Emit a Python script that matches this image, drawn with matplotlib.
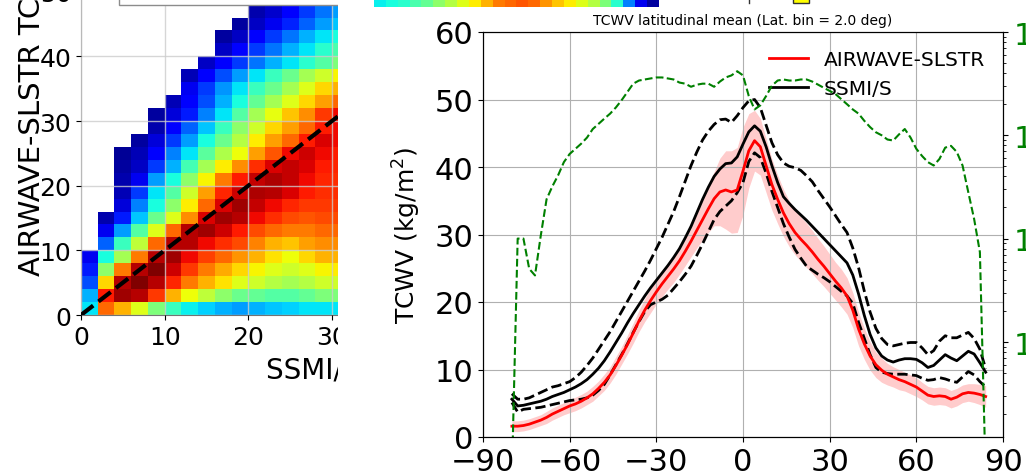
import numpy as np
import matplotlib.pyplot as plt
from matplotlib.patches import Rectangle
from matplotlib.lines import Line2D

nan = np.nan

# ---------------- latitudinal means (right panel) ----------------
lat = [-80, -78, -76, -74, -72, -70, -68, -66, -64, -62,
       -60, -58, -56, -54, -52, -50, -48, -46, -44, -42,
       -40, -38, -36, -34, -32, -30, -28, -26, -24, -22,
       -20, -18, -16, -14, -12, -10, -8, -6, -4, -2,
       0, 2, 4, 6, 8, 10, 12, 14, 16, 18,
       20, 22, 24, 26, 28, 30, 32, 34, 36, 38,
       40, 42, 44, 46, 48, 50, 52, 54, 56, 58,
       60, 62, 64, 66, 68, 70, 72, 74, 76, 78,
       80, 82, 84]

airwave_mean = [1.6, 1.6, 1.7, 1.9, 2.2, 2.5, 2.9, 3.4, 3.8, 4.2,
                4.6, 4.9, 5.3, 5.8, 6.4, 7.2, 8.1, 9.2, 10.6, 12.1,
                13.7, 15.4, 17.2, 18.8, 20.2, 21.5, 22.7, 23.8, 24.9, 26.1,
                27.5, 29.0, 30.6, 32.2, 33.8, 35.3, 36.3, 36.6, 36.3, 36.6,
                39.4, 42.4, 43.9, 43.0, 40.2, 37.4, 35.2, 33.2, 31.6, 30.3,
                29.3, 28.4, 27.4, 26.3, 25.3, 24.2, 23.1, 22.1, 20.9, 18.8,
                16.0, 13.8, 12.0, 10.7, 9.9, 9.3, 8.9, 8.5, 8.2, 7.8,
                7.4, 6.8, 6.2, 6.0, 6.1, 6.0, 5.6, 5.9, 6.4, 6.6,
                6.5, 6.3, 6.0]

airwave_std = [0.8, 0.8, 0.8, 0.8, 0.8, 0.8, 0.9, 0.9, 0.9, 0.9,
               1.0, 1.0, 1.0, 1.0, 1.1, 1.1, 1.2, 1.2, 1.3, 1.3,
               1.4, 1.5, 1.6, 1.7, 1.8, 1.8, 1.9, 1.9, 2.0, 2.0,
               2.1, 2.3, 2.6, 3.0, 3.5, 4.0, 5.0, 5.8, 6.1, 6.3,
               6.5, 5.5, 4.5, 4.2, 4.0, 3.8, 3.6, 3.5, 3.4, 3.3,
               3.3, 3.3, 3.2, 3.1, 3.0, 2.9, 2.8, 2.8, 2.7, 2.6,
               2.5, 2.3, 2.1, 1.9, 1.8, 1.6, 1.5, 1.5, 1.4, 1.4,
               1.4, 1.3, 1.3, 1.3, 1.3, 1.3, 1.3, 1.3, 1.3, 1.3,
               1.4, 1.5, 1.6]

ssmis_mean = [5.6, 4.6, 4.7, 4.9, 5.1, 5.3, 5.6, 6.0, 6.3, 6.6,
              7.0, 7.4, 7.9, 8.5, 9.3, 10.2, 11.3, 12.6, 14.0, 15.4,
              16.9, 18.3, 19.6, 20.9, 22.1, 23.2, 24.3, 25.4, 26.6, 27.9,
              29.5, 31.2, 33.2, 35.2, 37.0, 38.6, 39.7, 40.5, 40.6, 41.5,
              43.4, 45.2, 46.1, 45.3, 43.0, 40.2, 37.7, 35.6, 34.6, 33.7,
              32.9, 32.1, 31.2, 30.3, 29.4, 28.5, 27.6, 26.7, 25.8, 24.0,
              21.2, 18.0, 15.2, 13.2, 12.0, 11.4, 11.1, 11.4, 11.6, 11.6,
              11.5, 11.0, 10.3, 10.6, 11.4, 12.2, 11.7, 11.3, 12.0, 12.7,
              12.3, 11.0, 9.6]

ssmis_upper = [6.4, 5.6, 5.6, 5.8, 6.2, 6.6, 7.0, 7.4, 7.6, 7.9,
               8.2, 8.8, 9.6, 10.6, 11.7, 13.0, 14.3, 15.6, 17.1, 18.6,
               20.1, 21.6, 23.1, 24.6, 26.2, 27.9, 29.6, 31.5, 33.4, 35.6,
               37.9, 40.2, 42.2, 44.0, 45.3, 46.3, 47.0, 47.1, 46.6, 47.6,
               48.8, 49.8, 50.0, 48.8, 46.2, 43.6, 41.8, 40.6, 40.1, 39.9,
               39.5, 38.7, 37.8, 36.5, 35.3, 34.1, 32.8, 31.5, 30.3, 28.0,
               25.1, 21.6, 18.5, 16.1, 14.6, 13.7, 13.5, 13.7, 13.9, 14.0,
               14.0, 13.2, 12.2, 12.8, 14.2, 15.0, 14.7, 14.7, 15.1, 15.5,
               14.6, 13.0, 10.1]

ssmis_lower = [5.1, 3.7, 4.1, 4.2, 4.3, 4.4, 4.6, 4.8, 5.0, 5.2,
               5.4, 5.5, 5.6, 5.8, 6.2, 6.9, 7.8, 9.2, 10.7, 12.2,
               13.8, 15.5, 17.1, 18.6, 19.6, 20.0, 20.4, 21.0, 22.0, 23.0,
               24.1, 25.3, 26.9, 28.6, 30.4, 32.2, 33.4, 34.2, 35.0, 36.2,
               37.7, 40.8, 42.1, 41.4, 39.1, 36.4, 34.0, 31.6, 29.6, 27.8,
               26.5, 25.3, 24.7, 24.1, 23.6, 23.0, 22.3, 21.6, 20.9, 19.8,
               17.0, 14.6, 12.2, 10.3, 9.6, 9.4, 9.3, 9.3, 9.3, 9.2,
               9.1, 8.7, 8.4, 8.5, 8.8, 8.6, 8.3, 8.1, 8.9, 9.7,
               9.2, 8.2, 7.4]

# number of matchups per latitude bin (right log axis)
n_obs = [5e1, 1.0e4, 1.0e4, 5.1e3, 4.4e3, 1.07e4, 2.4e4, 3.2e4, 4.1e4, 5.5e4,
         6.6e4, 7.4e4, 8.3e4, 9.5e4, 1.15e5, 1.29e5, 1.45e5, 1.62e5, 1.86e5, 2.19e5,
         2.63e5, 3.16e5, 3.39e5, 3.47e5, 3.55e5, 3.63e5, 3.63e5, 3.55e5, 3.47e5, 3.24e5,
         3.16e5, 2.95e5, 3.09e5, 3.16e5, 3.16e5, 2.95e5, 3.31e5, 3.63e5, 3.80e5, 4.17e5,
         3.80e5, 2.40e5, 1.78e5, 1.95e5, 2.40e5, 3.02e5, 3.39e5, 3.47e5, 3.39e5, 3.39e5,
         3.47e5, 3.47e5, 3.31e5, 3.09e5, 2.88e5, 2.69e5, 2.51e5, 2.24e5, 2.00e5, 1.78e5,
         1.62e5, 1.38e5, 1.20e5, 1.07e5, 1.00e5, 9.1e4, 8.9e4, 1.02e5, 1.15e5, 9.5e4,
         7.4e4, 6.3e4, 5.5e4, 5.1e4, 5.9e4, 7.6e4, 7.9e4, 6.9e4, 5.1e4, 2.8e4,
         1.55e4, 7.4e3, 5e1]

# ---------------- 2D histogram (left panel), colour level 0-1 ----------------
hist_x_edges = [0, 2, 4, 6, 8, 10, 12, 14, 16, 18, 20, 22, 24, 26, 28, 30, 32]
hist_y_edges = [0, 2, 4, 6, 8, 10, 12, 14, 16, 18, 20, 22, 24, 26,
                28, 30, 32, 34, 36, 38, 40, 42, 44, 46, 48, 50, 52]

# rows listed from top (y 50-52) to bottom (y 0-2)
hist_level_top_down = [
    [nan, nan, nan, nan, nan, nan, nan, nan, nan, nan, nan, 0.04, 0.08, 0.12, 0.17, 0.22],
    [nan, nan, nan, nan, nan, nan, nan, nan, nan, nan, 0.03, 0.05, 0.10, 0.15, 0.20, 0.25],
    [nan, nan, nan, nan, nan, nan, nan, nan, nan, nan, 0.04, 0.07, 0.12, 0.18, 0.24, 0.28],
    [nan, nan, nan, nan, nan, nan, nan, nan, nan, 0.03, 0.06, 0.10, 0.16, 0.22, 0.28, 0.32],
    [nan, nan, nan, nan, nan, nan, nan, nan, 0.03, 0.06, 0.12, 0.18, 0.24, 0.30, 0.35, 0.38],
    [nan, nan, nan, nan, nan, nan, nan, nan, 0.06, 0.12, 0.18, 0.24, 0.30, 0.35, 0.40, 0.44],
    [nan, nan, nan, nan, nan, nan, nan, 0.06, 0.12, 0.18, 0.24, 0.30, 0.35, 0.40, 0.45, 0.50],
    [nan, nan, nan, nan, nan, nan, 0.05, 0.12, 0.20, 0.28, 0.35, 0.42, 0.48, 0.55, 0.60, 0.65],
    [nan, nan, nan, nan, nan, nan, 0.10, 0.18, 0.27, 0.35, 0.42, 0.48, 0.55, 0.62, 0.68, 0.72],
    [nan, nan, nan, nan, nan, 0.05, 0.12, 0.20, 0.30, 0.38, 0.47, 0.55, 0.62, 0.68, 0.74, 0.80],
    [nan, nan, nan, nan, 0.03, 0.08, 0.15, 0.25, 0.35, 0.45, 0.55, 0.63, 0.70, 0.76, 0.85, 0.90],
    [nan, nan, nan, nan, 0.04, 0.12, 0.22, 0.32, 0.42, 0.52, 0.60, 0.68, 0.74, 0.80, 0.88, 0.90],
    [nan, nan, nan, 0.03, 0.08, 0.18, 0.28, 0.38, 0.48, 0.57, 0.66, 0.74, 0.80, 0.88, 0.92, 0.90],
    [nan, nan, 0.02, 0.05, 0.12, 0.25, 0.35, 0.46, 0.56, 0.64, 0.74, 0.82, 0.90, 0.93, 0.90, 0.88],
    [nan, nan, 0.03, 0.06, 0.18, 0.30, 0.43, 0.55, 0.66, 0.76, 0.86, 0.92, 0.94, 0.92, 0.88, 0.87],
    [nan, nan, 0.04, 0.10, 0.28, 0.38, 0.52, 0.65, 0.78, 0.88, 0.94, 0.96, 0.94, 0.90, 0.87, 0.86],
    [nan, nan, 0.05, 0.18, 0.35, 0.45, 0.60, 0.74, 0.87, 0.93, 0.96, 0.95, 0.92, 0.88, 0.86, 0.86],
    [nan, nan, 0.08, 0.25, 0.38, 0.52, 0.66, 0.80, 0.92, 0.97, 0.94, 0.90, 0.87, 0.85, 0.85, 0.85],
    [nan, 0.04, 0.15, 0.32, 0.48, 0.62, 0.76, 0.92, 0.97, 0.95, 0.90, 0.86, 0.83, 0.82, 0.83, 0.83],
    [nan, 0.10, 0.28, 0.45, 0.62, 0.80, 0.95, 0.97, 0.93, 0.88, 0.83, 0.80, 0.78, 0.78, 0.80, 0.80],
    [nan, 0.22, 0.42, 0.58, 0.80, 0.95, 0.95, 0.90, 0.86, 0.83, 0.77, 0.72, 0.70, 0.74, 0.76, 0.76],
    [0.10, 0.38, 0.55, 0.78, 0.95, 0.97, 0.90, 0.84, 0.80, 0.75, 0.72, 0.67, 0.64, 0.68, 0.72, 0.72],
    [0.15, 0.52, 0.78, 0.95, 1.00, 0.93, 0.85, 0.78, 0.73, 0.68, 0.65, 0.62, 0.60, 0.62, 0.65, 0.66],
    [0.20, 0.68, 0.95, 1.00, 0.95, 0.87, 0.78, 0.72, 0.67, 0.62, 0.60, 0.57, 0.55, 0.57, 0.60, 0.60],
    [0.30, 0.88, 0.97, 0.95, 0.85, 0.72, 0.64, 0.58, 0.52, 0.48, 0.47, 0.45, 0.45, 0.47, 0.50, 0.50],
    [0.35, 0.80, 0.72, 0.62, 0.50, 0.42, 0.36, 0.33, 0.30, 0.28, 0.30, 0.32, 0.33, 0.35, 0.35, 0.35],
]

# bottom row of the panel above (only a sliver is visible)
top_strip = [0.36, 0.38, 0.40, 0.44, 0.47, 0.52, 0.57, 0.62, 0.66, 0.72, 0.78, 0.80,
             0.82, 0.80, 0.75, 0.70, 0.66, 0.62, 0.57, 0.50, 0.40, 0.25, 0.10, 0.03]

W, H = 1026, 477
fig = plt.figure(figsize=(W / 100, H / 100), dpi=100)

# ---------------- left: 2D histogram ----------------
ax_l = fig.add_axes([81 / W, (H - 316) / H, 502 / W, 388 / H])
hist_level = np.ma.masked_invalid(np.array(hist_level_top_down[::-1]))
ax_l.pcolormesh(hist_x_edges, hist_y_edges, hist_level, cmap='jet', vmin=0, vmax=1)
ax_l.plot([0, 60], [0, 60], color='black', ls='--', lw=3, zorder=4)
ax_l.add_patch(Rectangle((4.55, 48.0), 60, 20, facecolor='white', edgecolor='0.55',
                         lw=1, zorder=5))
ax_l.set_xlim(0, 60)
ax_l.set_ylim(0, 60)
ax_l.set_xticks([0, 10, 20, 30, 40, 50, 60])
ax_l.set_yticks([0, 10, 20, 30, 40, 50, 60])
ax_l.set_axisbelow(False)
ax_l.grid(True, color='0.8', lw=1, alpha=0.8)
ax_l.tick_params(labelsize=18)
for s in ax_l.spines.values():
    s.set_color('0.45')
ax_l.set_xlabel('SSMI/S TCWV', fontsize=20)
ax_l.xaxis.set_label_coords(0.553, -0.105)
ax_l.set_ylabel('AIRWAVE-SLSTR TCWV', fontsize=21)
ax_l.yaxis.set_label_coords(-0.07, 0.525)

# white gap between the two cropped panels
fig.add_artist(Rectangle((338 / W, 0), 1, 1, transform=fig.transFigure,
                         facecolor='white', edgecolor='none', zorder=1))

# ---------------- right: latitudinal mean ----------------
ax_r = fig.add_axes([483 / W, (H - 438) / H, 520 / W, 405 / H])
ax_r.set_zorder(2)
lo = [m - s for m, s in zip(airwave_mean, airwave_std)]
hi = [m + s for m, s in zip(airwave_mean, airwave_std)]
ax_r.fill_between(lat, lo, hi, color='red', alpha=0.2, lw=0)
ax_r.plot(lat, ssmis_upper, color='black', ls='--', lw=2)
ax_r.plot(lat, ssmis_lower, color='black', ls='--', lw=2)
ax_r.plot(lat, airwave_mean, color='red', lw=2, label='AIRWAVE-SLSTR')
ax_r.plot(lat, ssmis_mean, color='black', lw=2, label='SSMI/S')
ax_r.set_xlim(-90, 90)
ax_r.set_ylim(0, 60)
ax_r.set_xticks([-90, -60, -30, 0, 30, 60, 90])
ax_r.set_yticks([0, 10, 20, 30, 40, 50, 60])
ax_r.grid(True)
ax_r.tick_params(labelsize=22)
ax_r.set_ylabel('TCWV (kg/m$^2$)', fontsize=18, labelpad=8)
ax_r.set_title('TCWV latitudinal mean (Lat. bin = 2.0 deg)', fontsize=10)
ax_r.legend(loc='upper right', frameon=False, fontsize=14.5, handlelength=1.9)

ax_t = ax_r.twinx()
ax_t.set_zorder(3)
ax_t.patch.set_visible(False)
ax_t.plot(lat, n_obs, color='green', ls='--', lw=1.5)
ax_t.set_yscale('log')
ax_t.set_ylim(120, 1e6)
ax_t.tick_params(axis='y', labelcolor='green', labelsize=22)

# ---------------- sliver of the panel above ----------------
ax_s = fig.add_axes([374 / W, (H - 8) / H, 285 / W, 30 / H])
ax_s.set_zorder(4)
ax_s.imshow([top_strip], cmap='jet', vmin=0, vmax=1, aspect='auto',
            interpolation='nearest')
ax_s.axis('off')
fig.add_artist(Line2D([749 / W, 749 / W], [(H - 4) / H, 1], color='0.2', lw=1,
                      transform=fig.transFigure, zorder=5))
fig.add_artist(Rectangle((793 / W, (H - 4) / H), 16 / W, 10 / H, transform=fig.transFigure,
                         facecolor='yellow', edgecolor='0.2', lw=1, zorder=5))

fig.savefig('out.png', dpi=100)
